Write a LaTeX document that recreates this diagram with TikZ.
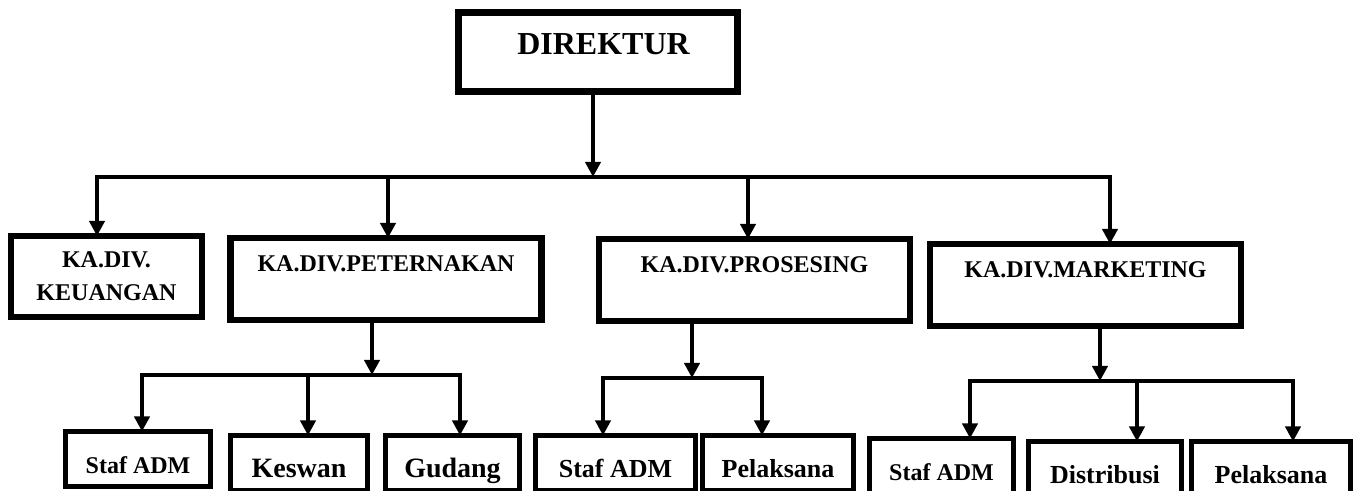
\documentclass[tikz,border=0pt]{standalone}
\usepackage{fontspec}
\setmainfont{Liberation Serif}
\usetikzlibrary{arrows.meta}

\begin{document}
\begin{tikzpicture}[x=0.5pt,y=-0.5pt,>={Triangle[width=7.5pt,length=7.5pt]}]
      \tikzstyle{org_box}=[draw=black, fill=white, inner sep=0pt, outer sep=0pt, anchor=north]
      \tikzstyle{top_box}=[org_box, line width=3.5pt, minimum width=139.5pt, text height=21pt, text depth=18.5pt, font=\bfseries\fontsize{16}{19}\selectfont]
      \tikzstyle{div_box}=[org_box, line width=3.2pt, minimum width=155.5pt, text height=17pt, text depth=24pt, font=\bfseries\fontsize{12}{14}\selectfont]
      \tikzstyle{sub_box}=[org_box, line width=2.6pt, text height=21pt, text depth=6.5pt, font=\bfseries\fontsize{13}{15}\selectfont]
      \tikzstyle{small_text}=[font=\bfseries\fontsize{12}{14}\selectfont]
      \tikzstyle{big_text}=[font=\bfseries\fontsize{14}{16}\selectfont]
      \tikzstyle{conn}=[line width=2pt]

      \useasboundingbox (0,0) rectangle (1362,491);

      \node [top_box] (DIR) at (597.5,13) {\hspace*{6pt}DIREKTUR};

      \node [org_box, line width=3.2pt, minimum width=95.5pt, minimum height=40.5pt, align=center, font=\bfseries\fontsize{12}{16.5}\selectfont] (DIV-KEU) at (106.5,236) {KA.DIV.\\KEUANGAN};
      \node [div_box] (DIV-PET) at (386,238) {KA.DIV.PETERNAKAN};
      \node [div_box] (DIV-PROS) at (754.5,239) {KA.DIV.PROSESING};
      \node [div_box] (DIV-MKT) at (1085.5,244) {KA.DIV.MARKETING};

      \node [sub_box, small_text, minimum width=72.5pt] (PET-1) at (138,431.5) {Staf ADM};
      \node [sub_box, big_text, minimum width=68.5pt] (PET-2) at (299,435.5) {Keswan};
      \node [sub_box, big_text, minimum width=67pt] (PET-3) at (452.5,435.5) {Gudang};

      \node [sub_box, minimum width=80pt] (PROS-1) at (615.5,435.5) {Staf ADM};
      \node [sub_box, minimum width=75.5pt] (PROS-2) at (778,435.5) {Pelaksana};

      \node [sub_box, small_text, minimum width=72pt] (MKT-1) at (941.5,438.5) {Staf ADM};
      \node [sub_box, minimum width=76.5pt] (MKT-2) at (1105,441.5) {Distribusi};
      \node [sub_box, minimum width=79.5pt] (MKT-3) at (1271,441.5) {Pelaksana};

      \coordinate (bus-c) at (593,177);
      \coordinate (bus-1) at (97,177);
      \coordinate (bus-2) at (388,177);
      \coordinate (bus-3) at (748,177);
      \coordinate (bus-4) at (1110,177);
      \draw [conn,->] (DIR.south -| bus-c) -- (bus-c);
      \draw [conn,<->] (bus-1 |- DIV-KEU.north) -- (bus-1) -- (bus-4) -- (bus-4 |- DIV-MKT.north);
      \draw [conn,->] (bus-2) -- (bus-2 |- DIV-PET.north);
      \draw [conn,->] (bus-3) -- (bus-3 |- DIV-PROS.north);

      \coordinate (pet-c) at (372,375);
      \coordinate (pet-1) at (142,375);
      \coordinate (pet-2) at (308,375);
      \coordinate (pet-3) at (460,375);
      \draw [conn,->] (DIV-PET.south -| pet-c) -- (pet-c);
      \draw [conn,<->] (pet-1 |- PET-1.north) -- (pet-1) -- (pet-3) -- (pet-3 |- PET-3.north);
      \draw [conn,->] (pet-2) -- (pet-2 |- PET-2.north);

      \coordinate (pros-c) at (692,378);
      \coordinate (pros-1) at (603,378);
      \coordinate (pros-2) at (762,378);
      \draw [conn,->] (DIV-PROS.south -| pros-c) -- (pros-c);
      \draw [conn,<->] (pros-1 |- PROS-1.north) -- (pros-1) -- (pros-2) -- (pros-2 |- PROS-2.north);

      \coordinate (mkt-c) at (1100,381);
      \coordinate (mkt-1) at (970,381);
      \coordinate (mkt-2) at (1137,381);
      \coordinate (mkt-3) at (1293,381);
      \draw [conn,->] (DIV-MKT.south -| mkt-c) -- (mkt-c);
      \draw [conn,<->] (mkt-1 |- MKT-1.north) -- (mkt-1) -- (mkt-3) -- (mkt-3 |- MKT-3.north);
      \draw [conn,->] (mkt-2) -- (mkt-2 |- MKT-2.north);
\end{tikzpicture}
\end{document}
